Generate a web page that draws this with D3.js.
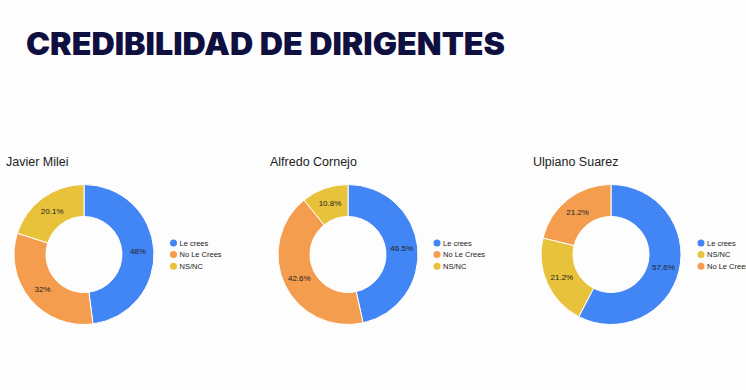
<!DOCTYPE html>
<html><head><meta charset="utf-8">
<script src="https://cdn.jsdelivr.net/npm/d3@7"></script>
<style>html,body{margin:0;padding:0;background:#fdfdfd;}svg{display:block;}</style>
</head><body>
<script>
const pageTitle = "CREDIBILIDAD DE DIRIGENTES";
const chartTitles = ["Javier Milei", "Alfredo Cornejo", "Ulpiano Suarez"];
const milieCats = ["Le crees", "No Le Crees", "NS/NC"];
const mileiVals = [48, 32, 20.1];
const cornejoCats = ["Le crees", "No Le Crees", "NS/NC"];
const cornejoVals = [46.5, 42.6, 10.8];
const suarezCats = ["Le crees", "NS/NC", "No Le Crees"];
const suarezVals = [57.6, 21.2, 21.2];
const valueLabels = [["48%", "32%", "20.1%"], ["46.5%", "42.6%", "10.8%"], ["57.6%", "21.2%", "21.2%"]];

const colorMap = {"Le crees": "#4285f4", "No Le Crees": "#f49d4f", "NS/NC": "#e8c23b"};

const W = 746, H = 390;
const svg = d3.select("body").append("svg").attr("width", W).attr("height", H);

svg.append("rect").attr("width", W).attr("height", H).attr("fill", "#fdfdfd");
svg.append("rect").attr("x", 0).attr("y", 92).attr("width", W).attr("height", 256).attr("fill", "#fdfdfd");

svg.append("text").attr("x", 26).attr("y", 55)
  .attr("font-family", "Inter, 'DejaVu Sans', sans-serif")
  .attr("font-weight", 900).attr("font-size", 31)
  .attr("fill", "#0f0f40")
  .attr("textLength", 479).attr("lengthAdjust", "spacingAndGlyphs")
  .text(pageTitle);

const charts = [
  {cats: milieCats, vals: mileiVals, labels: valueLabels[0], cx: 84, tx: 6, lx: 173.5},
  {cats: cornejoCats, vals: cornejoVals, labels: valueLabels[1], cx: 348, tx: 270, lx: 437},
  {cats: suarezCats, vals: suarezVals, labels: valueLabels[2], cx: 611, tx: 533, lx: 701}
];
const cy = 254.5, rOut = 70, rIn = 38;

const pie = d3.pie().sort(null).value(d => d.v);
const arc = d3.arc().innerRadius(rIn).outerRadius(rOut);
const labelArc = d3.arc().innerRadius((rIn + rOut) / 2).outerRadius((rIn + rOut) / 2);

charts.forEach((c, i) => {
  const data = c.cats.map((k, j) => ({k, v: c.vals[j], lab: c.labels[j]}));
  svg.append("text").attr("x", c.tx).attr("y", 165.5)
    .attr("font-family", "'Liberation Sans', Arial, sans-serif")
    .attr("font-size", 12.5).attr("fill", "#222").text(chartTitles[i]);
  const g = svg.append("g").attr("transform", `translate(${c.cx},${cy})`);
  const arcs = pie(data);
  g.selectAll("path").data(arcs).join("path")
    .attr("d", arc).attr("fill", d => colorMap[d.data.k])
    .attr("stroke", "#fff").attr("stroke-width", 1);
  g.selectAll("text").data(arcs).join("text")
    .attr("transform", d => `translate(${labelArc.centroid(d)})`)
    .attr("text-anchor", "middle").attr("dy", "0.35em")
    .attr("font-family", "'Liberation Sans', Arial, sans-serif")
    .attr("font-size", 8).attr("fill", "#222")
    .text(d => d.data.lab);
  const lg = svg.append("g").attr("transform", `translate(${c.lx},243)`);
  const items = lg.selectAll("g").data(data).join("g")
    .attr("transform", (d, j) => `translate(0,${j * 11.6})`);
  items.append("circle").attr("r", 3.5).attr("fill", d => colorMap[d.k]);
  items.append("text").attr("x", 6).attr("dy", "0.35em")
    .attr("font-family", "'Liberation Sans', Arial, sans-serif")
    .attr("font-size", 7.5).attr("fill", "#222").text(d => d.k);
});
</script>
</body></html>
